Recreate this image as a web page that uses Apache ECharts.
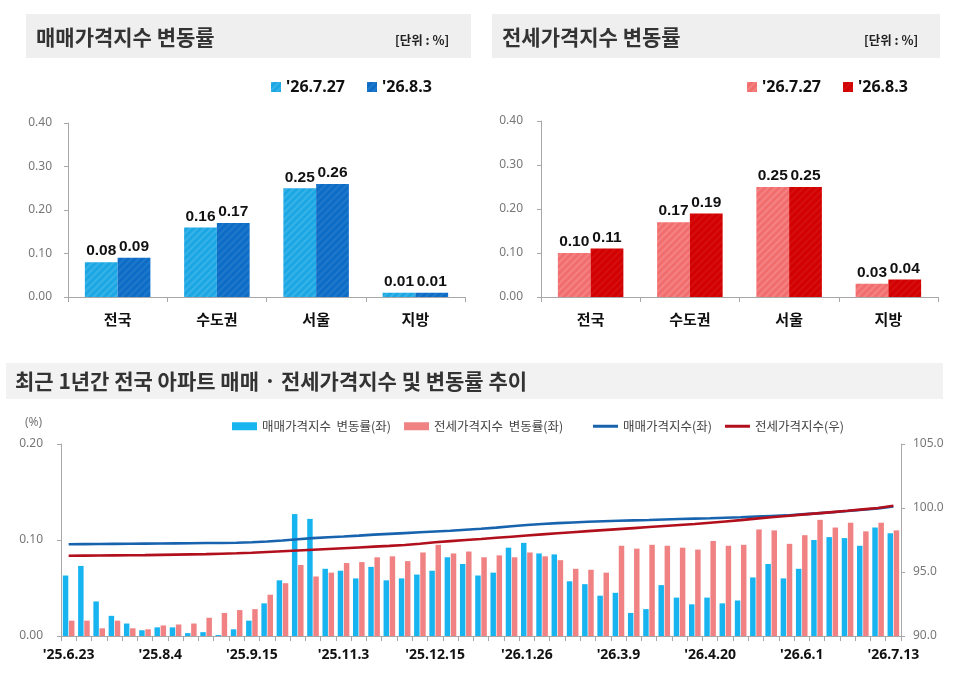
<!DOCTYPE html>
<html>
<head>
<meta charset="utf-8">
<script src="https://cdn.jsdelivr.net/npm/echarts@6/dist/echarts.min.js"></script>
<style>
html,body{margin:0;padding:0;background:#fff;}
#chart{width:971px;height:688px;}
</style>
</head>
<body>
<div id="chart"></div>
<script>
// ---------- data ----------
const regions = ['전국', '수도권', '서울', '지방'];
const surveyDates = ["'26.7.27", "'26.8.3"];
const saleRatePrev = [0.08, 0.16, 0.25, 0.01];
const saleRateLast = [0.09, 0.17, 0.26, 0.01];
const jeonseRatePrev = [0.10, 0.17, 0.25, 0.03];
const jeonseRateLast = [0.11, 0.19, 0.25, 0.04];

const weeks = ["'25.6.23","'25.6.30","'25.7.7","'25.7.14","'25.7.21","'25.7.28","'25.8.4","'25.8.11","'25.8.18","'25.8.25",
  "'25.9.1","'25.9.8","'25.9.15","'25.9.22","'25.9.29","'25.10.13","'25.10.20","'25.10.27","'25.11.3","'25.11.10",
  "'25.11.17","'25.11.24","'25.12.1","'25.12.8","'25.12.15","'25.12.22","'25.12.29","'26.1.5","'26.1.12","'26.1.19",
  "'26.1.26","'26.2.2","'26.2.9","'26.2.16","'26.2.23","'26.3.2","'26.3.9","'26.3.16","'26.3.23","'26.3.30",
  "'26.4.6","'26.4.13","'26.4.20","'26.4.27","'26.5.4","'26.5.11","'26.5.18","'26.5.25","'26.6.1","'26.6.8",
  "'26.6.15","'26.6.22","'26.6.29","'26.7.6","'26.7.13"];
const saleChange = [0.063,0.073,0.036,0.021,0.013,0.006,0.009,0.009,0.003,0.004,
  0.001,0.007,0.016,0.034,0.058,0.127,0.122,0.070,0.068,0.060,
  0.072,0.058,0.060,0.064,0.068,0.082,0.075,0.063,0.066,0.092,
  0.097,0.086,0.085,0.057,0.054,0.042,0.045,0.024,0.028,0.053,
  0.040,0.033,0.040,0.034,0.037,0.061,0.075,0.060,0.070,0.100,
  0.103,0.102,0.094,0.113,0.107];
const jeonseChange = [0.016,0.016,0.008,0.016,0.008,0.007,0.011,0.012,0.013,0.019,
  0.024,0.027,0.028,0.043,0.055,0.074,0.062,0.066,0.076,0.077,
  0.082,0.083,0.078,0.087,0.095,0.086,0.088,0.082,0.084,0.082,
  0.087,0.083,0.079,0.070,0.069,0.066,0.094,0.091,0.095,0.094,
  0.092,0.090,0.099,0.094,0.095,0.111,0.110,0.096,0.105,0.121,
  0.113,0.118,0.109,0.118,0.110];
const saleIndex = [97.17,97.18,97.19,97.20,97.21,97.22,97.23,97.24,97.25,97.26,
  97.27,97.29,97.32,97.38,97.46,97.56,97.65,97.71,97.77,97.84,
  97.92,97.98,98.04,98.10,98.16,98.22,98.30,98.38,98.47,98.57,
  98.67,98.75,98.82,98.87,98.92,98.96,99.00,99.03,99.06,99.10,
  99.14,99.17,99.20,99.24,99.28,99.33,99.38,99.42,99.50,99.58,
  99.67,99.76,99.86,99.97,100.12];
const jeonseIndex = [96.27,96.28,96.29,96.30,96.31,96.32,96.34,96.36,96.38,96.40,
  96.43,96.46,96.50,96.56,96.62,96.68,96.74,96.80,96.86,96.92,
  96.98,97.04,97.11,97.21,97.32,97.41,97.50,97.58,97.67,97.76,
  97.85,97.94,98.03,98.11,98.19,98.27,98.35,98.43,98.51,98.59,
  98.67,98.75,98.85,98.95,99.05,99.17,99.28,99.38,99.48,99.58,
  99.68,99.78,99.89,100.00,100.18];
const bottomNames = ['매매가격지수  변동률(좌)', '전세가격지수  변동률(좌)', '매매가격지수(좌)', '전세가격지수(우)'];

// ---------- styles ----------
const KR = "'Noto Sans CJK KR','Noto Sans',sans-serif";
const NUM = "'Noto Sans','DejaVu Sans',sans-serif";
const LAB = "'Liberation Sans','Noto Sans',sans-serif";
const axisGray = '#a8a8a8';
const stripe = (c) => ({symbol:'rect', symbolSize:1, dashArrayX:[1,0], dashArrayY:[2,3], rotation:-Math.PI/4, color:c});

const topLabel = {show:true, position:'top', distance:3, color:'#111', fontWeight:'bold', fontSize:15.5, fontFamily:LAB,
  formatter: p => p.value.toFixed(2)};

function catAxis(gi){
  return {type:'category', gridIndex:gi, data:regions,
    axisLine:{lineStyle:{color:axisGray}}, axisTick:{show:true, length:5, lineStyle:{color:axisGray}},
    axisLabel:{color:'#111', fontWeight:'bold', fontSize:15, fontFamily:KR, margin:15}};
}
function rateAxis(gi, margin){
  return {type:'value', gridIndex:gi, min:0, max:0.4, interval:0.1,
    axisLine:{show:true, lineStyle:{color:axisGray}}, axisTick:{show:true, length:4, lineStyle:{color:axisGray}},
    splitLine:{show:false},
    axisLabel:{color:'#777', fontSize:12, fontFamily:NUM, margin:margin, formatter:v=>v.toFixed(2)}};
}
const titleFont = "bold 21px " + KR;
const unitFont = "bold 12.5px " + KR;

const chart = echarts.init(document.getElementById('chart'), null, {renderer:'canvas'});
chart.setOption({
  animation:false,
  backgroundColor:'#fff',
  graphic:[
    {type:'rect', z:0, shape:{x:26,y:14,width:445,height:44}, style:{fill:'#efefef'}},
    {type:'rect', z:0, shape:{x:492,y:14,width:448,height:44}, style:{fill:'#efefef'}},
    {type:'rect', z:0, shape:{x:6,y:363,width:937,height:36}, style:{fill:'#f2f2f2'}},
    {type:'text', z:1, x:36, y:37, style:{text:'매매가격지수 변동률', font:titleFont, fill:'#333', textVerticalAlign:'middle', verticalAlign:'middle'}},
    {type:'text', z:1, x:395, y:40, style:{text:'[단위 : %]', font:unitFont, fill:'#222', textVerticalAlign:'middle', verticalAlign:'middle'}},
    {type:'text', z:1, x:502, y:37, style:{text:'전세가격지수 변동률', font:titleFont, fill:'#333', textVerticalAlign:'middle', verticalAlign:'middle'}},
    {type:'text', z:1, x:864, y:40, style:{text:'[단위 : %]', font:unitFont, fill:'#222', textVerticalAlign:'middle', verticalAlign:'middle'}},
    {type:'text', z:1, x:15, y:381, style:{text:'최근 1년간 전국 아파트 매매 · 전세가격지수 및 변동률 추이', font:titleFont, fill:'#333', textVerticalAlign:'middle', verticalAlign:'middle'}},
    {type:'text', z:1, x:25, y:423, style:{text:'(%)', font:"12px "+NUM, fill:'#777', textVerticalAlign:'middle', verticalAlign:'middle'}}
  ],
  legend:[
    {left:266, top:74, itemWidth:10, itemHeight:10, itemGap:22, icon:'rect',
      data:surveyDates.map(d=>'매매|'+d), formatter:n=>n.split('|')[1],
      textStyle:{fontSize:16, fontWeight:'bold', color:'#111', fontFamily:NUM}},
    {left:742, top:74, itemWidth:10, itemHeight:10, itemGap:22, icon:'rect',
      data:surveyDates.map(d=>'전세|'+d), formatter:n=>n.split('|')[1],
      textStyle:{fontSize:16, fontWeight:'bold', color:'#111', fontFamily:NUM}},
    {left:227, top:415, itemWidth:25, itemHeight:8, itemGap:13, icon:'rect',
      data:[bottomNames[0], bottomNames[1]],
      textStyle:{fontSize:12.5, color:'#444', fontFamily:KR}},
    {left:588, top:415, itemWidth:25, itemHeight:3, itemGap:13, icon:'rect',
      data:[bottomNames[2], bottomNames[3]],
      textStyle:{fontSize:12.5, color:'#444', fontFamily:KR}}
  ],
  grid:[
    {left:68, top:123, width:397, height:174},
    {left:541, top:121, width:397, height:176},
    {left:61, top:444, width:840, height:192}
  ],
  xAxis:[
    catAxis(0), catAxis(1),
    {type:'category', gridIndex:2, data:weeks,
      axisLine:{lineStyle:{color:axisGray}},
      axisTick:{show:true, interval:0, length:5, lineStyle:{color:axisGray}},
      axisLabel:{interval:5, color:'#111', fontWeight:'bold', fontSize:14, fontFamily:NUM, margin:12}}
  ],
  yAxis:[
    rateAxis(0,16), rateAxis(1,18),
    {type:'value', gridIndex:2, min:0, max:0.2, interval:0.1,
      axisLine:{show:true, lineStyle:{color:axisGray}}, axisTick:{show:true, length:4, lineStyle:{color:axisGray}},
      splitLine:{show:false},
      axisLabel:{color:'#777', fontSize:12, fontFamily:NUM, margin:18, formatter:v=>v.toFixed(2)}},
    {type:'value', gridIndex:2, position:'right', min:90, max:105, interval:5,
      axisLine:{show:true, lineStyle:{color:axisGray}}, axisTick:{show:true, length:4, lineStyle:{color:axisGray}},
      splitLine:{show:false},
      axisLabel:{color:'#777', fontSize:12, fontFamily:NUM, margin:12, formatter:v=>v.toFixed(1)}}
  ],
  series:[
    {name:'매매|'+surveyDates[0], type:'bar', xAxisIndex:0, yAxisIndex:0, data:saleRatePrev,
      barGap:'0%', barCategoryGap:'34%', itemStyle:{color:'#1ba6e4', decal:stripe('rgba(255,255,255,0.13)')}, label:topLabel},
    {name:'매매|'+surveyDates[1], type:'bar', xAxisIndex:0, yAxisIndex:0, data:saleRateLast,
      barGap:'0%', barCategoryGap:'34%', itemStyle:{color:'#0c6cc6', decal:stripe('rgba(255,255,255,0.08)')}, label:topLabel},
    {name:'전세|'+surveyDates[0], type:'bar', xAxisIndex:1, yAxisIndex:1, data:jeonseRatePrev,
      barGap:'0%', barCategoryGap:'34%', itemStyle:{color:'#f26d6d', decal:stripe('rgba(255,255,255,0.15)')}, label:topLabel},
    {name:'전세|'+surveyDates[1], type:'bar', xAxisIndex:1, yAxisIndex:1, data:jeonseRateLast,
      barGap:'0%', barCategoryGap:'34%', itemStyle:{color:'#d20000', decal:stripe('rgba(255,255,255,0.06)')}, label:topLabel},
    {name:bottomNames[0], type:'bar', xAxisIndex:2, yAxisIndex:2, data:saleChange,
      barGap:'12%', barCategoryGap:'24%', itemStyle:{color:'#17b4f0'}},
    {name:bottomNames[1], type:'bar', xAxisIndex:2, yAxisIndex:2, data:jeonseChange,
      barGap:'12%', barCategoryGap:'24%', itemStyle:{color:'#f08283'}},
    {name:bottomNames[2], type:'line', xAxisIndex:2, yAxisIndex:3, data:saleIndex,
      showSymbol:false, symbol:'none', lineStyle:{color:'#1763ae', width:2.6}, itemStyle:{color:'#1763ae'}, z:3},
    {name:bottomNames[3], type:'line', xAxisIndex:2, yAxisIndex:3, data:jeonseIndex,
      showSymbol:false, symbol:'none', lineStyle:{color:'#b10f1c', width:2.6}, itemStyle:{color:'#b10f1c'}, z:4}
  ]
});
</script>
</body>
</html>
